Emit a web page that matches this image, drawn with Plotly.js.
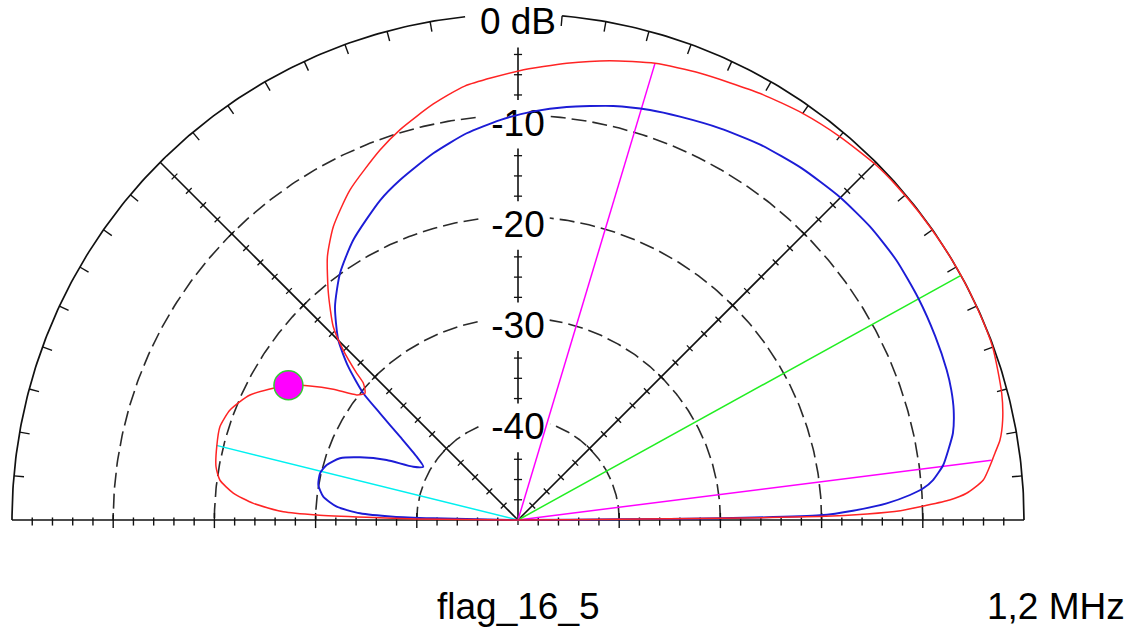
<!DOCTYPE html>
<html>
<head>
<meta charset="utf-8">
<script src="https://cdn.plot.ly/plotly-3.0.1.min.js"></script>
<style>
html,body{margin:0;padding:0;background:#fff;}
#chart{width:1132px;height:629px;}
</style>
</head>
<body>
<div id="chart"></div>
<script>
// ---------------- DATA (elevation angle in degrees, relative gain in dB) ----------------
const redAngle = [0, 0.39, 0.48, 0.66, 0.99, 1.39, 1.98, 2.65, 3.41, 4.91, 7.02, 8.0, 9.42, 11.66, 14.68,
  20.0, 24.5, 28.9, 33.0, 37.5, 41.5, 44.8, 50.0, 55.0, 60.4, 67.8, 73.3, 78.7, 83.9, 89.8, 97.0,
  101.5, 106.8, 110.5, 117.0, 122.2, 125.9, 129.9, 133.7, 135.8, 137.7, 138.5, 140.4, 142.2, 144.7,
  147.2, 149.6, 155.0, 159.1, 162.6, 166.3, 170.0, 172.4, 174.6, 176.4, 178.0, 178.6, 179.0, 179.4, 180];
const redDb = [-50, -40, -30, -20.2, -15.5, -12.2, -9.9, -7.3, -5.6, -3.85, -2.84, -2.4, -1.72, -1.1, -0.59,
  -0.08, -0.02, 0, -0.02, -0.05, -0.1, -0.18, -0.54, -0.95, -1.53, -2.33, -2.89, -3.72, -4.62, -5.6, -6.8,
  -8.05, -9.7, -11.0, -13.41, -15.75, -17.88, -20.79, -23.58, -25.91, -28.46, -29.6, -30.37, -29.83, -27.64,
  -25.55, -23.67, -20.78, -19.54, -19.14, -19.36, -19.7, -20.29, -21.74, -23.8, -26.8, -30.1, -35.05, -40, -50];

const blueAngle = [0, 0.4, 0.5, 0.89, 1.59, 2.59, 3.65, 4.47, 5.5, 7.37, 9.24, 11.31, 14.15, 16.69, 19.28,
  23.81, 28.98, 34.47, 39.8, 45.11, 51.14, 57.17, 62.72, 68.12, 72.15, 77.04, 83.27, 87.85, 92.58, 97.56,
  103.0, 109.14, 113.33, 120.47, 125.81, 130.63, 134.96, 137.91, 140.68, 142.29, 144.78, 148.0,
  150.62, 153.02, 155.44, 158.36, 160.88, 163.96, 166.73, 170.06, 173.18, 175.8, 177.57, 178.48, 178.85, 180];
const blueDb = [-50, -40, -30, -20.16, -16.89, -13.53, -11.19, -9.83, -8.8, -7.63, -6.92, -6.17, -5.6, -5.3, -5.12,
  -4.95, -4.78, -4.65, -4.72, -4.95, -5.35, -5.85, -6.45, -7.05, -7.44, -8.02, -8.9, -9.6, -10.44, -11.45,
  -12.81, -14.44, -15.6, -17.9, -19.94, -22.23, -24.87, -27.4, -30.24, -32.77, -35.73, -38.19,
  -39.26, -38.39, -35.73, -33.2, -31.38, -30.33, -29.9, -29.97, -30.62, -32.04, -34.37, -37.68, -41.63, -50];

// marker lines (half-power points, maximum, back-lobe) and cursor
const halfPowerAngle = [73.3, 7.2];
const halfPowerDb = [-2.89, -2.85];
const maxAngle = [28.9];
const maxDb = [0];
const backAngle = [166.1];
const backDb = [-19.3];
const cursorAngle = [149.6];
const cursorDb = [-23.7];

// scale
const dbMin = -50, dbMax = 0;
const ringLevels = [-40, -30, -20, -10];
const ringLabels = ['-40', '-30', '-20', '-10'];
const topLabel = '0 dB';
const antennaName = 'flag_16_5';
const freqLabel = '1,2 MHz';

// ---------------- LAYOUT CONSTANTS ----------------
const W = 1132, H = 629, CX = 518, CY = 520, PX = 10.12; // px per dB
const FONT = 'Liberation Sans, Arial, sans-serif';
const GRID = '#111111';

function pol(a, db) {
  const r = db - dbMin, t = a * Math.PI / 180;
  return [r * Math.cos(t), r * Math.sin(t)];
}
function curve(angles, dbs) {
  const x = [], y = [];
  angles.forEach((a, i) => { const p = pol(a, dbs[i]); x.push(p[0]); y.push(p[1]); });
  return {x, y};
}
const R = dbMax - dbMin; // outer radius in data units

function ring(db, gapL, gapR) {
  const x = [], y = [];
  for (let a = 0; a <= 180.0001; a += 0.5) {
    const p = pol(a, db);
    if (p[1] > 0 && p[0] > gapL && p[0] < gapR) {
      if (x.length && x[x.length - 1] !== null) { x.push(null); y.push(null); }
      continue;
    }
    x.push(p[0]); y.push(p[1]);
  }
  return {x, y};
}

const traces = [];
const lineTrace = (xy, color, width, dash, shape) => ({
  type: 'scatter', mode: 'lines', x: xy.x, y: xy.y, hoverinfo: 'skip',
  line: {color: color, width: width, dash: dash || 'solid', shape: shape || 'linear', smoothing: 0.6}
});

// dashed rings
ringLevels.forEach(lv => traces.push(lineTrace(ring(lv, -3.9, 3.1), '#2a2a2a', 1.6, '15px,6px')));
// outer ring
traces.push(lineTrace(ring(dbMax, -4.9, 4.2), GRID, 1.7));

// baseline
traces.push(lineTrace({x: [-R, R], y: [0, 0]}, GRID, 1.7));

// diagonals with perpendicular ticks
[45, 135].forEach(ang => {
  const e = pol(ang, dbMax);
  traces.push(lineTrace({x: [0, e[0]], y: [0, e[1]]}, GRID, 1.6));
  const x = [], y = [];
  const t = ang * Math.PI / 180, nx = -Math.sin(t), ny = Math.cos(t);
  for (let r = 2; r < R; r += 2) {
    const cx = r * Math.cos(t), cy = r * Math.sin(t);
    x.push(cx - 0.4 * nx, cx + 0.4 * nx, null);
    y.push(cy - 0.4 * ny, cy + 0.4 * ny, null);
  }
  traces.push(lineTrace({x, y}, GRID, 1.3));
});

// vertical axis with gaps for labels
(function () {
  const gaps = ringLevels.concat([dbMax]).map(lv => [lv - dbMin - 3.3, lv - dbMin + 1.5]);
  const x = [], y = [];
  let start = 0;
  gaps.forEach(g => { x.push(0, 0, null); y.push(start, g[0], null); start = g[1]; });
  traces.push(lineTrace({x, y}, GRID, 1.6));
  const tx = [], ty = [];
  for (let r = 2; r < R; r += 2) {
    if (gaps.some(g => r > g[0] && r < g[1])) continue;
    tx.push(-0.4, 0.4, null); ty.push(r, r, null);
  }
  tx.push(0, 0, null); ty.push(0, -0.5, null);
  traces.push(lineTrace({x: tx, y: ty}, GRID, 1.3));
})();

// baseline ticks
(function () {
  const x = [], y = [];
  for (let n = 1; n < R / 2; n++) {
    [-1, 1].forEach(s => {
      const v = s * n * 2;
      const major = (n * 2) % 10 === 0;
      x.push(v, v, null);
      y.push(major ? 0.7 : 0.25, major ? -0.8 : -0.55, null);
    });
  }
  traces.push(lineTrace({x, y}, GRID, 1.4));
})();

// outer ring ticks every 5 degrees
(function () {
  const x = [], y = [];
  for (let a = 5; a < 180; a += 5) {
    if (a % 45 === 0) continue;
    const p1 = pol(a, dbMax), p2 = pol(a, dbMax - 1.0);
    if (p1[1] > 0 && p1[0] > -4.9 && p1[0] < 4.2) continue;
    x.push(p1[0], p2[0], null); y.push(p1[1], p2[1], null);
  }
  traces.push(lineTrace({x, y}, GRID, 1.4));
})();

// ring labels
(function () {
  const lv = ringLevels.concat([dbMax]);
  const txt = ringLabels.concat([topLabel]);
  traces.push({
    type: 'scatter', mode: 'text', hoverinfo: 'skip',
    x: lv.map(() => 0), y: lv.map(v => v - dbMin - 1.1), text: txt,
    textposition: 'middle center',
    textfont: {family: FONT, size: 37, color: '#000'}
  });
})();

// marker lines
halfPowerAngle.forEach((a, i) => {
  const p = pol(a, halfPowerDb[i]);
  traces.push(lineTrace({x: [0, p[0]], y: [0, p[1]]}, '#ff00ff', 1.5));
});
maxAngle.forEach((a, i) => {
  const p = pol(a, maxDb[i]);
  traces.push(lineTrace({x: [0, p[0]], y: [0, p[1]]}, '#22ee22', 1.5));
});
backAngle.forEach((a, i) => {
  const p = pol(a, backDb[i]);
  traces.push(lineTrace({x: [0, p[0]], y: [0, p[1]]}, '#00f0f0', 1.5));
});

// patterns
traces.push(lineTrace(curve(blueAngle, blueDb), '#1c1cd6', 1.9, 'solid', 'spline'));
traces.push(lineTrace(curve(redAngle, redDb), '#ff2424', 1.5, 'solid', 'spline'));

// cursor dot
(function () {
  const c = curve(cursorAngle, cursorDb);
  traces.push({
    type: 'scatter', mode: 'markers', x: c.x, y: c.y, hoverinfo: 'skip',
    marker: {size: 29, color: '#ff00ff', line: {color: '#33cc33', width: 1.5}}
  });
})();

const layout = {
  width: W, height: H,
  margin: {l: 0, r: 0, t: 0, b: 0, pad: 0},
  paper_bgcolor: '#ffffff', plot_bgcolor: '#ffffff',
  showlegend: false,
  xaxis: {range: [-CX / PX, (W - CX) / PX], visible: false, fixedrange: true},
  yaxis: {range: [-(H - CY) / PX, CY / PX], visible: false, fixedrange: true},
  annotations: [
    {text: antennaName, xref: 'paper', yref: 'paper', x: 518 / W, y: 1 - 606 / H,
     xanchor: 'center', yanchor: 'middle', showarrow: false,
     font: {family: FONT, size: 37, color: '#000'}},
    {text: freqLabel, xref: 'paper', yref: 'paper', x: 1127 / W, y: 1 - 606 / H,
     xanchor: 'right', yanchor: 'middle', showarrow: false,
     font: {family: FONT, size: 37, color: '#000'}}
  ]
};

Plotly.newPlot('chart', traces, layout, {staticPlot: true, displayModeBar: false});
</script>
</body>
</html>
